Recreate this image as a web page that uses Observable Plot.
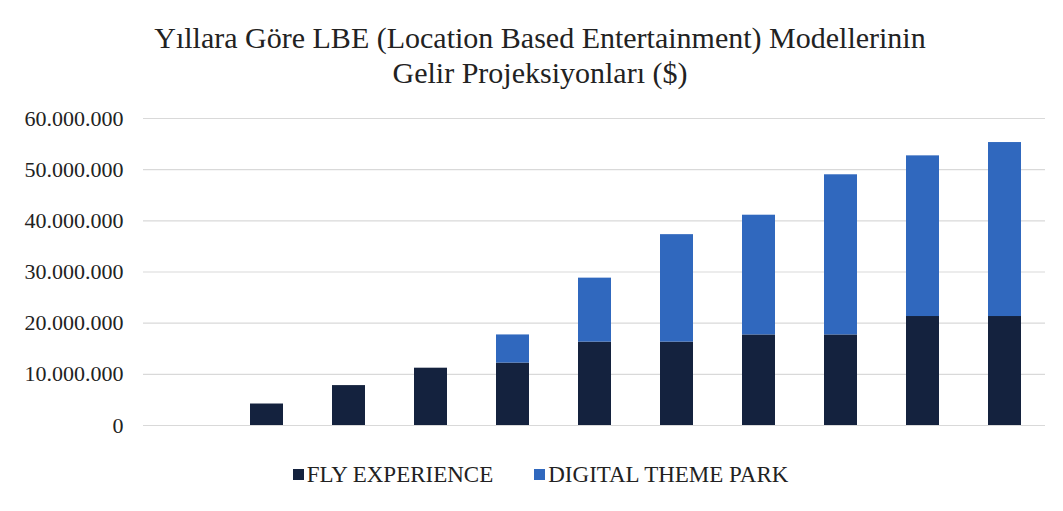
<!DOCTYPE html>
<html>
<head>
<meta charset="utf-8">
<script src="https://cdn.jsdelivr.net/npm/d3@7"></script>
<script src="https://cdn.jsdelivr.net/npm/@observablehq/plot@0.6"></script>
<style>
  body { margin: 0; background: #fff; font-family: "Liberation Serif", "Times New Roman", Tinos, "DejaVu Serif", serif; }
  #wrap { width: 1063px; height: 511px; position: relative; overflow: hidden; }
  #title { position: absolute; left: 0; top: 20px; width: 1080px; text-align: center; font-size: 30px; line-height: 35px; color: #222; }
  #chart { position: absolute; left: 0; top: 100px; height: 345px; }
  #legend { position: absolute; left: 0; top: 463px; width: 1081px; display: flex; justify-content: center; gap: 41px; font-size: 23px; line-height: 24px; color: #222; }
  .item { display: flex; align-items: center; }
  .sw { width: 11px; height: 11px; margin-right: 3px; display: inline-block; position: relative; top: -1px; }
</style>
</head>
<body>
<div id="wrap">
  <div id="title">Yıllara Göre LBE (Location Based Entertainment) Modellerinin<br>Gelir Projeksiyonları ($)</div>
  <div id="chart"></div>
  <div id="legend"></div>
</div>
<script>
const years = ["1", "2", "3", "4", "5", "6", "7", "8", "9", "10", "11"];
const seriesNames = ["FLY EXPERIENCE", "DIGITAL THEME PARK"];
const flyExperience = [0, 4200000, 7800000, 11200000, 12200000, 16300000, 16300000, 17700000, 17700000, 21300000, 21300000];
const digitalThemePark = [0, 0, 0, 0, 5500000, 12500000, 21000000, 23400000, 31300000, 31400000, 34000000];
const yTicks = [0, 10000000, 20000000, 30000000, 40000000, 50000000, 60000000];
const colors = ["#14223e", "#3068be"];

const data = [];
years.forEach((y, i) => {
  data.push({ year: y, series: seriesNames[0], value: flyExperience[i] });
  data.push({ year: y, series: seriesNames[1], value: digitalThemePark[i] });
});

const fmt = v => d3.format(",")(v).replace(/,/g, ".");
const serif = "'Liberation Serif', 'Times New Roman', Tinos, 'DejaVu Serif', serif";

const plot = Plot.plot({
  width: 1063,
  height: 345,
  marginTop: 18,
  marginBottom: 20,
  marginLeft: 143,
  marginRight: 18,
  style: { fontFamily: serif, fontSize: "22px", color: "#222", background: "#fff" },
  x: { domain: years, paddingInner: 0.6, paddingOuter: 0.3, axis: null },
  y: { domain: [0, 60000000], ticks: yTicks, tickFormat: fmt, tickSize: 0, tickPadding: 20, label: null },
  color: { domain: seriesNames, range: colors },
  marks: [
    Plot.gridY(yTicks, { stroke: "#d9d9d9", strokeOpacity: 1, strokeWidth: 1.2 }),
    Plot.barY(data, { x: "year", y: "value", fill: "series", order: seriesNames }),
    Plot.axisY({ ticks: yTicks, tickFormat: fmt, tickSize: 0, tickPadding: 20, fontSize: 22, fontFamily: serif, label: null })
  ]
});
document.getElementById("chart").appendChild(plot);

const legend = document.getElementById("legend");
seriesNames.forEach((s, i) => {
  const it = document.createElement("div");
  it.className = "item";
  const sw = document.createElement("span");
  sw.className = "sw";
  sw.style.background = colors[i];
  it.appendChild(sw);
  it.appendChild(document.createTextNode(s));
  legend.appendChild(it);
});
</script>
</body>
</html>
